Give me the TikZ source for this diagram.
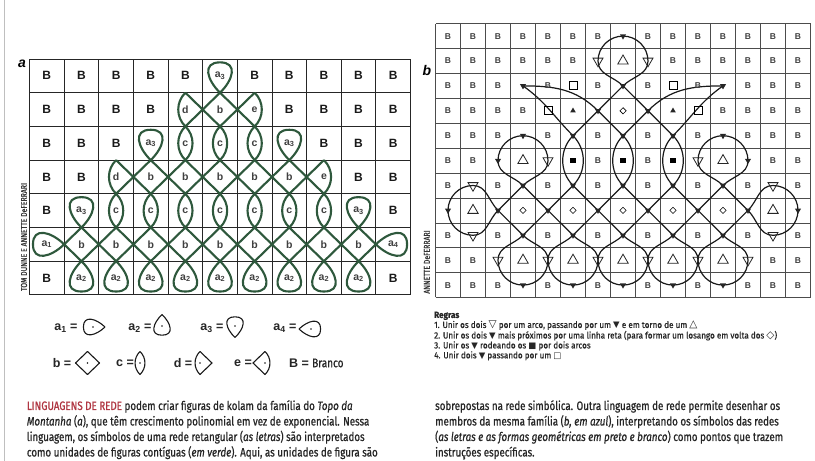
\documentclass[tikz,border=0pt]{standalone}
\usepackage{fontspec}
\setmainfont{Liberation Sans}
\newfontfamily\capfont{Fira Sans}[FakeStretch=0.8, FakeBold=0.8]
\newfontfamily\rulefont{Fira Sans}[FakeStretch=0.9, FakeBold=0.6]
\newfontfamily\symfont{DejaVu Sans}
\usetikzlibrary{shapes.geometric}

\definecolor{kolamgreen}{RGB}{46,88,60}
\definecolor{headred}{RGB}{176,54,66}

% letter of a unit, digit as subscript (a3 -> a_3)
\newcommand\unitlabel[1]{\expandafter\lblparse#1\relax}
\def\lblparse#1#2\relax{#1\ifx\relax#2\relax\else\textsubscript{#2}\fi}
% symbols inside the rules
\newcommand\bigsym[1]{{\symfont\fontsize{10.5}{8}\selectfont #1}}
\newcommand\smallsym[1]{{\symfont\fontsize{8.5}{8}\selectfont #1}}

\tikzset{
  % unit figures, drawn in a 2x2 box
  pics/shape B/.style={code={}},
  pics/shape b/.style={code={\draw (0,1) -- (1,0) -- (0,-1) -- (-1,0) -- cycle;}},
  pics/shape c/.style={code={\draw (0,1) .. controls (-0.55,0.45) and (-0.55,-0.45) .. (0,-1)
      .. controls (0.55,-0.45) and (0.55,0.45) .. (0,1);}},
  pics/shape d/.style={code={\draw (0,1) -- (1,0) -- (0,-1) .. controls (-0.55,-0.45) and (-0.55,0.45) .. (0,1);}},
  pics/shape e/.style={code={\draw (0,1) -- (-1,0) -- (0,-1) .. controls (0.55,-0.45) and (0.55,0.45) .. (0,1);}},
  pics/shape a1/.style={code={\draw (1,0) .. controls (0.25,-0.75) and (-0.8,-1.06) .. (-0.8,0)
      .. controls (-0.8,1.06) and (0.25,0.75) .. (1,0);}},
  pics/shape a2/.style={code={\draw (0,1) .. controls (-0.75,0.25) and (-1.06,-0.8) .. (0,-0.8)
      .. controls (1.06,-0.8) and (0.75,0.25) .. (0,1);}},
  pics/shape a3/.style={code={\draw (0,-1) .. controls (-0.75,-0.25) and (-1.06,0.8) .. (0,0.8)
      .. controls (1.06,0.8) and (0.75,-0.25) .. (0,-1);}},
  pics/shape a4/.style={code={\draw (-1,0) .. controls (-0.25,-0.75) and (0.8,-1.06) .. (0.8,0)
      .. controls (0.8,1.06) and (-0.25,0.75) .. (-1,0);}},
  % one cell of grid a
  pics/unit/.style={code={
      \pic[kolam, xscale=17.32, yscale=16.85] {shape #1};
      \node[unit text, unit text #1/.try] (-l) {\unitlabel{#1}};}},
  % symbols of grid b
  pics/glyph B/.style={code={\node[tinyB] (-m) {B};}},
  pics/glyph v/.style={code={\node[tri, draw, shape border rotate=180, minimum size=11.5pt] (-m) {};}},
  pics/glyph t/.style={code={\node[tri, draw, minimum size=12pt] (-m) {};}},
  pics/glyph V/.style={code={\node[tri, fill, shape border rotate=180, minimum size=7pt] (-m) {};}},
  pics/glyph A/.style={code={\node[tri, fill, minimum size=6.5pt] (-m) {};}},
  pics/glyph s/.style={code={\node[draw, line width=0.8pt, minimum size=8pt, inner sep=0pt] (-m) {};}},
  pics/glyph S/.style={code={\node[fill, minimum size=5.5pt, inner sep=0pt] (-m) {};}},
  pics/glyph d/.style={code={\node[diamond, draw, line width=0.6pt, minimum size=6.5pt, inner sep=0pt] (-m) {};}},
}

\begin{document}
\begin{tikzpicture}[x=1pt, y=1pt,
  gridA/.style={black!85, line width=0.9pt},
  gridB/.style={black!70, line width=0.5pt},
  kolam/.style={kolamgreen, line width=2.1pt, line join=round},
  weave/.style={black!90, line width=1.2pt, line join=round},
  legend line/.style={black!90, line width=1.1pt, line join=round},
  unit text/.style={font=\bfseries\fontsize{10.5}{10.5}\selectfont, text=black!75, inner sep=0pt},
  unit text B/.style={font=\bfseries\fontsize{12}{12}\selectfont, text=black!90},
  tinyB/.style={font=\bfseries\fontsize{8.5}{8.5}\selectfont, text=black!75, inner sep=0pt},
  tri/.style={regular polygon, regular polygon sides=3, inner sep=0pt, line width=0.8pt, black!85},
  legend text/.style={font=\bfseries\fontsize{12.5}{12.5}\selectfont, text=black!85, inner sep=0pt},
  panel/.style={font=\bfseries\itshape\fontsize{14}{14}\selectfont, inner sep=0pt},
  credit/.style={font=\capfont\fontsize{8.6}{8.6}\selectfont, text=black!80, rotate=90, inner sep=0pt},
  caption/.style={font=\capfont\fontsize{12.2}{12.2}\selectfont, text=black!85, inner sep=0pt, anchor=base west},
]
\fill[white] (0,0) rectangle (815,461);
\useasboundingbox (0,0) rectangle (815,461);
\draw[black!25, line width=1.2pt] (4.5,0) -- (4.5,461);

% ---------- grid a ----------
\foreach \k in {0,...,11}
  \draw[gridA] ({29.5+34.64*\k},166) -- ({29.5+34.64*\k},402);
\foreach \k in {0,...,7}
  \draw[gridA] (29.5,{402-33.7*\k}) -- (410.5,{402-33.7*\k});

\foreach \row [count=\r] in {
  {B,B,B,B,B,a3,B,B,B,B,B},
  {B,B,B,B,d,b,e,B,B,B,B},
  {B,B,B,a3,c,c,c,a3,B,B,B},
  {B,B,d,b,b,b,b,b,e,B,B},
  {B,a3,c,c,c,c,c,c,c,a3,B},
  {a1,b,b,b,b,b,b,b,b,b,a4},
  {B,a2,a2,a2,a2,a2,a2,a2,a2,a2,B}}
  \foreach \u [count=\c] in \row {
    \coordinate (ka-\r-\c) at ({29.5+34.64*(\c-0.5)},{402-33.7*(\r-0.5)});
    \pic (ua-\r-\c) at (ka-\r-\c) {unit=\u};
  }

\node[panel] (lbl-a) at (22,397) {a};
\node[credit] (cred-a) at (24,224) {TOM DUNNE E ANNETTE DeFERRARI};

% legend
\foreach \u/\x/\y in {a1/93/327, a2/162/326, a3/235/326, a4/311/329,
                      b/87.5/363, c/140/363, d/200/363, e/265/363} {
  \pic[legend line, xscale=12, yscale=11.5] (lg-\u) at ({\x},{461-\y}) {shape \u};
  \fill[black!90] ({\x},{461-\y}) circle (0.9);
}
\node[legend text] (lt-a1) at (66,133) {a\textsubscript{1} =};
\node[legend text] (lt-a2) at (140,133) {a\textsubscript{2} =};
\node[legend text] (lt-a3) at (212,133) {a\textsubscript{3} =};
\node[legend text] (lt-a4) at (285,133) {a\textsubscript{4} =};
\node[legend text] (lt-b) at (62,98) {b =};
\node[legend text] (lt-c) at (125,98) {c =};
\node[legend text] (lt-d) at (183,98) {d =};
\node[legend text] (lt-e) at (243,98) {e =};
\node[legend text] (lt-B) at (299,98) {B =};
\node[legend text, font=\capfont\fontsize{12.5}{12.5}\selectfont, anchor=west] (lt-w) at (312,98) {Branco};

% ---------- grid b ----------
\foreach \k in {0,...,15}
  \draw[gridB] ({435.5+25*\k},163.5) -- ({435.5+25*\k},437.4);
\foreach \k in {0,...,11}
  \draw[gridB] (435.5,{163.5+24.9*\k}) -- (810.5,{163.5+24.9*\k});

\foreach \row [count=\r from 0] in {
  {B,B,B,B,B,B,B,V,B,B,B,B,B,B,B},
  {B,B,B,B,B,B,v,t,v,B,B,B,B,B,B},
  {B,B,B,V,B,s,B,V,B,s,B,V,B,B,B},
  {B,B,B,B,s,A,V,d,V,A,s,B,B,B,B},
  {B,B,B,V,B,V,B,V,B,V,B,V,B,B,B},
  {B,B,V,t,v,S,B,S,B,S,v,t,V,B,B},
  {B,v,B,V,B,V,B,V,B,V,B,V,B,v,B},
  {V,t,V,d,V,d,V,d,V,d,V,d,V,t,V},
  {B,v,B,V,B,V,B,V,B,V,B,V,B,v,B},
  {B,B,v,t,v,t,v,t,v,t,v,t,v,B,B},
  {B,B,B,V,B,V,B,V,B,V,B,V,B,B,B}}
  \foreach \s [count=\c] in \row
    \coordinate (kb-\r-\c) at ({448+25*(\c-1)},{400-24.9*(\r-1)});

% rule 2: diamonds round the small diamonds
\draw[weave] (kb-2-8) -- (kb-3-9) -- (kb-4-8) -- (kb-3-7) -- cycle;
\foreach \c/\cl/\cr in {4/3/5, 6/5/7, 8/7/9, 10/9/11, 12/11/13}
  \draw[weave] (kb-6-\c) -- (kb-7-\cr) -- (kb-8-\c) -- (kb-7-\cl) -- cycle;
\draw[weave] (kb-3-7) -- (kb-4-6);
\draw[weave] (kb-3-9) -- (kb-4-10);

% rule 3: two arcs round the black squares
\foreach \c in {6,8,10} {
  \draw[weave] (kb-4-\c) to[out=225,in=135] (kb-6-\c);
  \draw[weave] (kb-4-\c) to[out=-45,in=45] (kb-6-\c);
}

% rule 4: through the white squares
\draw[weave] (kb-2-4) to[out=0,in=135] (kb-3-7);
\draw[weave] (kb-2-4) to[out=-35,in=135] (kb-4-6);
\draw[weave] (kb-2-12) to[out=180,in=45] (kb-3-9);
\draw[weave] (kb-2-12) to[out=215,in=45] (kb-4-10);

% rule 1: loops round the triangles
\draw[weave] (kb-2-8) to[out=135,in=270] (kb-1-7) to[out=90,in=180] (kb-0-8)
  to[out=0,in=90] (kb-1-9) to[out=270,in=45] (kb-2-8);
\foreach \c/\cl/\cr in {4/3/5, 12/11/13}
  \draw[weave] (kb-6-\c) to[out=135,in=270] (kb-5-\cl) to[out=90,in=180] (kb-4-\c)
    to[out=0,in=90] (kb-5-\cr) to[out=270,in=45] (kb-6-\c);
\foreach \c/\cl/\cr in {4/3/5, 6/5/7, 8/7/9, 10/9/11, 12/11/13}
  \draw[weave] (kb-8-\c) to[out=-45,in=90] (kb-9-\cr) to[out=270,in=0] (kb-10-\c)
    to[out=180,in=270] (kb-9-\cl) to[out=90,in=225] (kb-8-\c);
\draw[weave] (kb-7-3) to[out=225,in=0] (kb-8-2) to[out=180,in=270] (kb-7-1)
  to[out=90,in=180] (kb-6-2) to[out=0,in=135] (kb-7-3);
\draw[weave] (kb-7-13) to[out=-45,in=180] (kb-8-14) to[out=0,in=270] (kb-7-15)
  to[out=90,in=0] (kb-6-14) to[out=180,in=45] (kb-7-13);

% symbols on top
\foreach \row [count=\r from 0] in {
  {B,B,B,B,B,B,B,V,B,B,B,B,B,B,B},
  {B,B,B,B,B,B,v,t,v,B,B,B,B,B,B},
  {B,B,B,V,B,s,B,V,B,s,B,V,B,B,B},
  {B,B,B,B,s,A,V,d,V,A,s,B,B,B,B},
  {B,B,B,V,B,V,B,V,B,V,B,V,B,B,B},
  {B,B,V,t,v,S,B,S,B,S,v,t,V,B,B},
  {B,v,B,V,B,V,B,V,B,V,B,V,B,v,B},
  {V,t,V,d,V,d,V,d,V,d,V,d,V,t,V},
  {B,v,B,V,B,V,B,V,B,V,B,V,B,v,B},
  {B,B,v,t,v,t,v,t,v,t,v,t,v,B,B},
  {B,B,B,V,B,V,B,V,B,V,B,V,B,B,B}}
  \foreach \s [count=\c] in \row
    \pic (mb-\r-\c) at (kb-\r-\c) {glyph \s};

\node[panel] (lbl-b) at (427,391) {b};
\node[credit] (cred-b) at (427,199) {ANNETTE DeFERRARI};

% rules
\node[anchor=north west, align=left, inner sep=0pt, text=black!85,
      font=\rulefont\fontsize{9}{8.4}\selectfont] (rules) at (434,149.5) {%
  \textbf{Regras}\\
  1. Unir os dois \bigsym{▽} por um arco, passando por um \smallsym{▼} e em torno de um \bigsym{△}\\
  2. Unir os dois \smallsym{▼} mais próximos por uma linha reta (para formar um losango em volta dos \bigsym{◇})\\
  3. Unir os \smallsym{▼} rodeando os \smallsym{■} por dois arcos\\
  4. Unir dois \smallsym{▼} passando por um \smallsym{□}};

% caption
\foreach \txt [count=\i] in {
  {\textcolor{headred}{LINGUAGENS DE REDE} podem criar figuras de kolam da família do \textit{Topo da}},
  {\textit{Montanha} (\textit{a}), que têm crescimento polinomial em vez de exponencial. Nessa},
  {linguagem, os símbolos de uma rede retangular (\textit{as letras}) são interpretados},
  {como unidades de figuras contíguas (\textit{em verde}). Aqui, as unidades de figura são}}
  \node[caption] (capl-\i) at (26.7,{51-15.5*(\i-1)}) {\txt};
\foreach \txt [count=\i] in {
  {sobrepostas na rede simbólica. Outra linguagem de rede permite desenhar os},
  {membros da mesma família (\textit{b, em azul}), interpretando os símbolos das redes},
  {(\textit{as letras e as formas geométricas em preto e branco}) como pontos que trazem},
  {instruções específicas.}}
  \node[caption] (capr-\i) at (435,{51-15.5*(\i-1)}) {\txt};
\end{tikzpicture}
\end{document}
